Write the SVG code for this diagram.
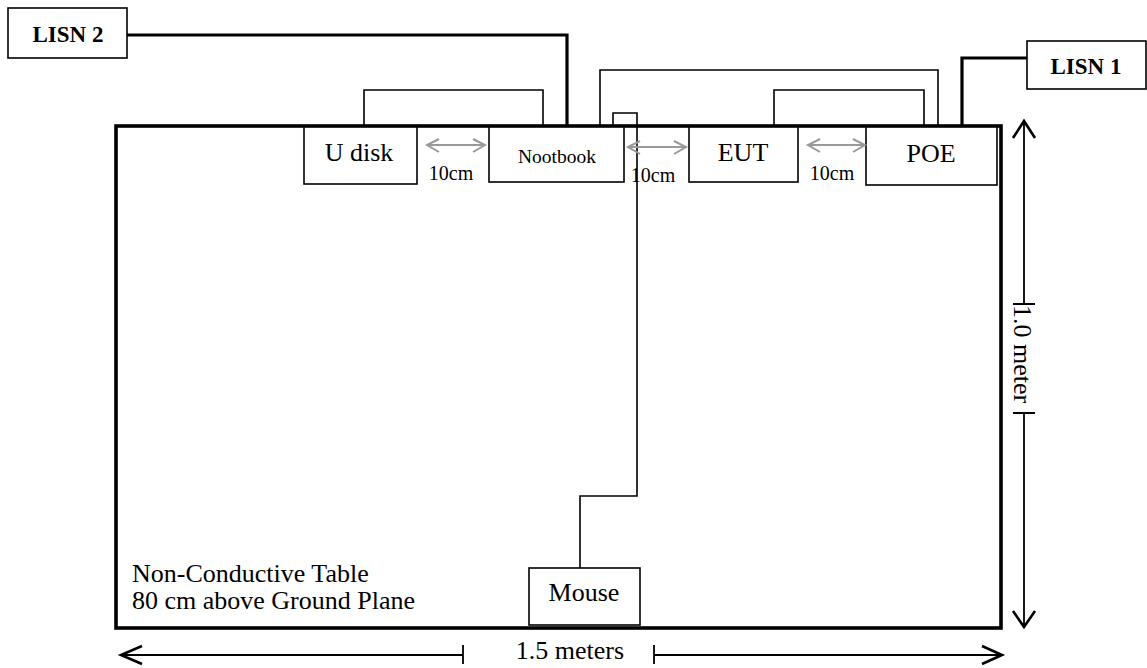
<svg xmlns="http://www.w3.org/2000/svg" width="1147" height="668" viewBox="0 0 1147 668">
<style>
.box{fill:#fff;stroke:#000;stroke-width:1.6}
.t{font-family:"Liberation Serif","Times New Roman",serif;font-size:26px;fill:#000;text-anchor:middle}
.l{font-family:"Liberation Serif","Times New Roman",serif;font-size:26px;fill:#000;text-anchor:start}
.s{font-family:"Liberation Serif","Times New Roman",serif;font-size:19.5px;fill:#000;text-anchor:middle}
.c{font-family:"Liberation Serif","Times New Roman",serif;font-size:20px;fill:#000;text-anchor:middle}
.b{font-family:"Liberation Serif","Times New Roman",serif;font-size:23px;font-weight:bold;fill:#000;text-anchor:middle}
.w{fill:none;stroke:#000;stroke-width:1.6}
.thick{fill:none;stroke:#000;stroke-width:3.2}
.gray{fill:none;stroke:#999;stroke-width:2}
.dim{fill:none;stroke:#000;stroke-width:1.8}
.head{fill:none;stroke:#000;stroke-width:2.6}
</style>
<rect width="1147" height="668" fill="#fff"/>
<g id="table">
<rect x="116" y="126" width="885" height="502" fill="none" stroke="#000" stroke-width="3.6"/>
<text class="l" x="132" y="582">Non-Conductive Table</text>
<text class="l" x="132" y="609">80 cm above Ground Plane</text>
</g>
<g id="connectors">
<path class="thick" d="M127 35H567V125"/>
<path class="thick" d="M962 125V58H1027"/>
<path class="w" d="M364 125V90H543V125"/>
<path class="w" d="M600 125V70H938V125"/>
<path class="w" d="M774 125V90H924V125"/>
<path class="w" d="M613 125V113H637V496H580V568"/>
</g>
<g id="udisk"><rect class="box" x="304" y="127" width="113" height="57"/><text class="t" x="359" y="161">U disk</text></g>
<g id="nootbook"><rect class="box" x="489" y="127" width="135" height="55"/><text class="s" x="557" y="163">Nootbook</text></g>
<g id="eut"><rect class="box" x="689" y="127" width="109" height="55"/><text class="t" x="743" y="161">EUT</text></g>
<g id="poe"><rect class="box" x="866" y="127" width="131" height="58"/><text class="t" x="931" y="162">POE</text></g>
<g id="mouse"><rect class="box" x="529" y="568" width="111" height="57"/><text class="t" x="584" y="601">Mouse</text></g>
<g id="lisn2"><rect class="box" x="8" y="8" width="119" height="50"/><text class="b" x="68" y="42">LISN 2</text></g>
<g id="lisn1"><rect class="box" x="1027" y="41" width="119" height="48"/><text class="b" x="1086" y="74">LISN 1</text></g>
<g id="spacing">
<path class="gray" d="M427 145H485M439 139L427 145L439 152M473 139L485 145L473 152"/>
<text class="c" x="451" y="180">10cm</text>
<path class="gray" d="M628 147H686M640 141L628 147L640 154M674 141L686 147L674 154"/>
<text class="c" x="653" y="182">10cm</text>
<path class="gray" d="M808 145H865M820 139L808 145L820 152M853 139L865 145L853 152"/>
<text class="c" x="832" y="180">10cm</text>
</g>
<g id="dimensions">
<path class="dim" d="M1024 122V304M1013 304H1035M1013 413H1035M1024 413V626"/>
<path class="head" d="M1013 138L1024 121L1035 138M1013 611L1024 627L1035 611"/>
<text class="t" transform="translate(1014 354) rotate(90)">1.0 meter</text>
<path class="dim" d="M122 655H463M463 645V664M654 645V664M654 655H1001"/>
<path class="head" d="M142 646L121 655L142 664M982 646L1002 655L982 664"/>
<text class="t" x="570" y="659">1.5 meters</text>
</g>
</svg>
